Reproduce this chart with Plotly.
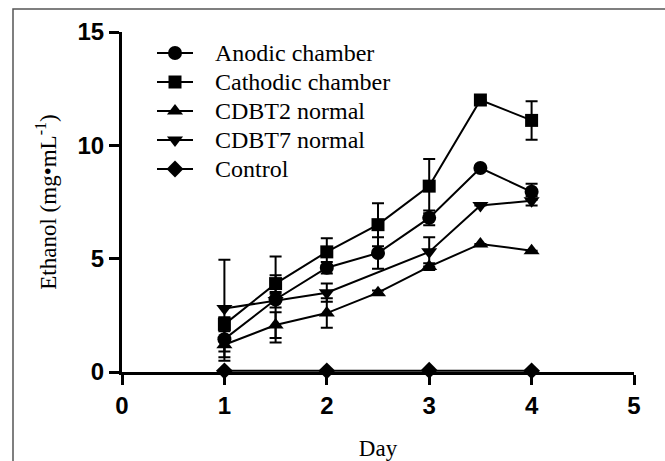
import plotly.graph_objects as go

# ---- data ----
days_anodic = [1, 1.5, 2, 2.5, 3, 3.5, 4]
anodic = [1.45, 3.2, 4.6, 5.25, 6.8, 9.0, 7.95]
anodic_err = [0.95, 1.9, 0.25, 0.7, 0.33, 0.0, 0.35]

days_cathodic = [1, 1.5, 2, 2.5, 3, 3.5, 4]
cathodic = [2.1, 3.9, 5.3, 6.5, 8.2, 12.0, 11.1]
cathodic_err = [0.3, 0.37, 0.6, 0.95, 1.2, 0.0, 0.85]

days_cdbt2 = [1, 1.5, 2, 2.5, 3, 3.5, 4]
cdbt2 = [1.2, 2.07, 2.6, 3.5, 4.65, 5.65, 5.35]
cdbt2_err = [0.3, 0.57, 0.65, 0.1, 0.15, 0.0, 0.0]

days_cdbt7 = [1, 1.5, 2, 3, 3.5, 4]
cdbt7 = [2.8, 3.15, 3.5, 5.3, 7.35, 7.55]
cdbt7_err = [2.15, 0.3, 0.4, 0.65, 0.0, 0.2]

days_control = [1, 2, 3, 4]
control = [0.05, 0.05, 0.08, 0.05]
control_err = [0.0, 0.0, 0.0, 0.0]

names = ["Anodic chamber", "Cathodic chamber", "CDBT2 normal", "CDBT7 normal", "Control"]
symbols = ["circle", "square", "triangle-up", "triangle-down", "diamond"]
sizes = [14, 13, 14, 14, 13]

series = [
    (days_anodic, anodic, anodic_err),
    (days_cathodic, cathodic, cathodic_err),
    (days_cdbt2, cdbt2, cdbt2_err),
    (days_cdbt7, cdbt7, cdbt7_err),
    (days_control, control, control_err),
]

serif = "Liberation Serif"
fig = go.Figure()
for (x, y, e), n, s, sz in zip(series, names, symbols, sizes):
    fig.add_trace(go.Scatter(
        x=x, y=y, name=n, mode="lines+markers", showlegend=False,
        line=dict(color="black", width=2),
        marker=dict(symbol=s, size=sz, color="black"),
        error_y=dict(type="data", array=e, visible=True, color="black",
                     thickness=2, width=6),
        cliponaxis=False,
    ))

# ---- hand-drawn legend on a pixel-scaled overlay axis ----
leg_y = [53, 82, 111, 140, 169]   # pixel rows of the legend entries
for n, s, sz, ly in zip(names, symbols, sizes, leg_y):
    fig.add_trace(go.Scatter(
        x=[157, 193], y=[ly, ly], xaxis="x2", yaxis="y2",
        mode="lines", showlegend=False, hoverinfo="skip", opacity=1,
        line=dict(color="#000000", width=2), cliponaxis=False,
    ))
    fig.add_trace(go.Scatter(
        x=[175], y=[ly], xaxis="x2", yaxis="y2",
        mode="markers", showlegend=False, hoverinfo="skip", opacity=1,
        marker=dict(symbol=s, size=sz, color="#000000", opacity=1,
                    line=dict(width=0)),
        cliponaxis=False,
    ))
    fig.add_annotation(x=213, y=ly, xref="x2", yref="y2", text=n,
                       showarrow=False, xanchor="left", yanchor="middle",
                       font=dict(family=serif, size=24, color="black"))

tickfont = dict(family="Liberation Sans", size=24, color="black", weight="bold")

fig.update_layout(
    width=665, height=461,
    margin=dict(l=122, r=31, t=32, b=89),
    paper_bgcolor="white", plot_bgcolor="white",
    font=dict(family=serif, color="black"),
    showlegend=False,
    xaxis=dict(range=[0, 5], tickvals=[0, 1, 2, 3, 4, 5],
               showline=True, linecolor="black", linewidth=3,
               ticks="outside", ticklen=10, tickwidth=3, tickcolor="black",
               showgrid=False, zeroline=False, tickfont=tickfont,
               layer="below traces", automargin=False,
               title=dict(text="Day", font=dict(family=serif, size=23, color="black"),
                          standoff=26)),
    yaxis=dict(range=[0, 15], tickvals=[0, 5, 10, 15],
               showline=True, linecolor="black", linewidth=3,
               ticks="outside", ticklen=10, tickwidth=3, tickcolor="black",
               showgrid=False, zeroline=False, tickfont=tickfont,
               layer="below traces", automargin=False,
               title=dict(text="Ethanol (mg•mL<sup>-1</sup>)",
                          font=dict(family=serif, size=23, color="black"),
                          standoff=15)),
    xaxis2=dict(overlaying="x", anchor="y2", range=[122, 634], visible=False,
                fixedrange=True),
    yaxis2=dict(overlaying="y", anchor="x2", range=[372, 32], visible=False,
                fixedrange=True),
)

# outer frame of the figure image
fig.add_shape(type="rect", xref="paper", yref="paper",
              x0=(13 - 122) / 512, x1=(690 - 122) / 512,
              y0=(372 - 480) / 340, y1=(372 - 9) / 340,
              line=dict(color="#555555", width=1.5), fillcolor="rgba(0,0,0,0)",
              layer="below")

fig.write_html("out.html")
